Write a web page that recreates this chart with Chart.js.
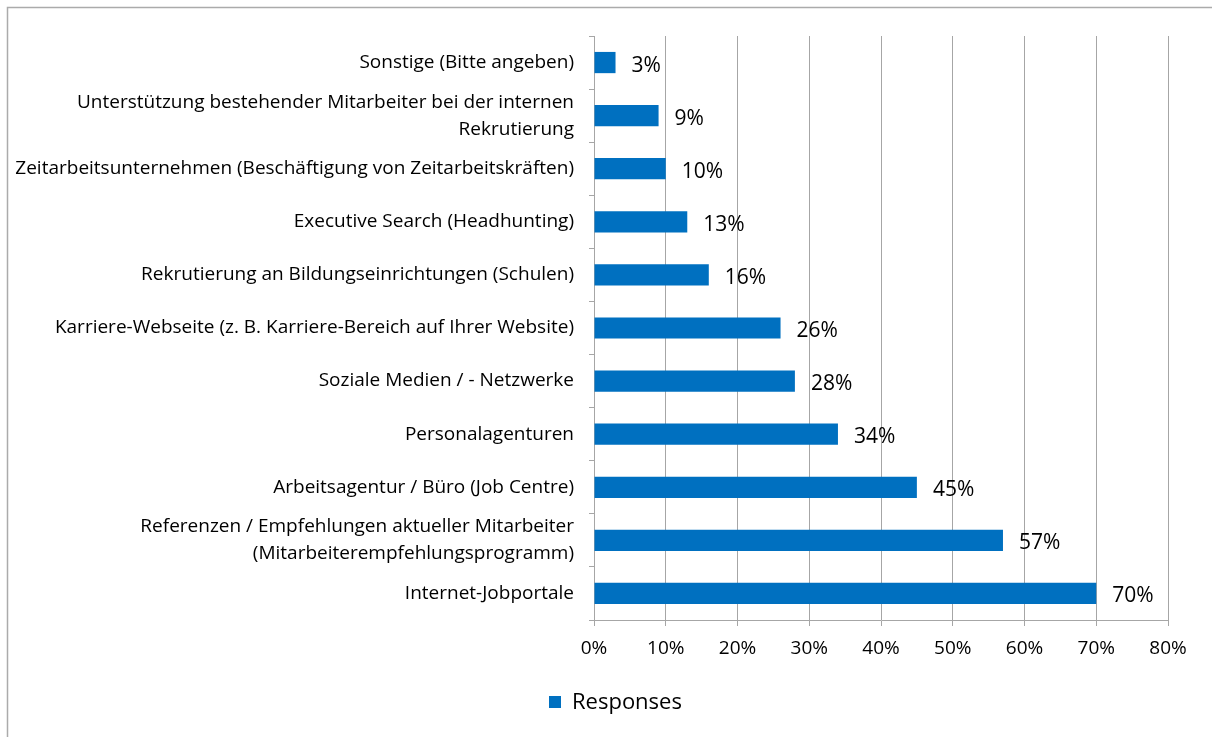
<!DOCTYPE html>
<html>
<head>
<meta charset="utf-8">
<script src="https://cdn.jsdelivr.net/npm/chart.js@4.4.1/dist/chart.umd.min.js"></script>
<style>
    html, body { margin: 0; padding: 0; background: #ffffff; }
    #wrap { width: 1212px; height: 737px; position: relative; }
</style>
</head>
<body>
<div id="wrap"><canvas id="chart" width="1212" height="737"></canvas></div>
<script>
const categories = [
    'Sonstige (Bitte angeben)',
    ['Unterstützung bestehender Mitarbeiter bei der internen', 'Rekrutierung'],
    'Zeitarbeitsunternehmen (Beschäftigung von Zeitarbeitskräften)',
    'Executive Search (Headhunting)',
    'Rekrutierung an Bildungseinrichtungen (Schulen)',
    'Karriere-Webseite (z. B. Karriere-Bereich auf Ihrer Website)',
    'Soziale Medien / - Netzwerke',
    'Personalagenturen',
    'Arbeitsagentur / Büro (Job Centre)',
    ['Referenzen / Empfehlungen aktueller Mitarbeiter', '(Mitarbeiterempfehlungsprogramm)'],
    'Internet-Jobportale'
];
const responses = [3, 9, 10, 13, 16, 26, 28, 34, 45, 57, 70];
const seriesName = 'Responses';
const tickMax = 80;
const tickStep = 10;

const FONT = '"Open Sans", "Noto Sans", sans-serif';
const barColor = '#0070C0';
const gridColor = '#a6a6a6';

// background + outer frame like the exported image
const framePlugin = {
    id: 'framePlugin',
    beforeDraw(chart) {
        const ctx = chart.ctx;
        ctx.save();
        ctx.fillStyle = '#ffffff';
        ctx.fillRect(0, 0, chart.width, chart.height);
        ctx.strokeStyle = '#ababab';
        ctx.lineWidth = 1.5;
        ctx.strokeRect(7.5, 7.5, chart.width + 20, chart.height + 20);
        ctx.restore();
    }
};

// value labels right of each bar
const valueLabelPlugin = {
    id: 'valueLabelPlugin',
    afterDatasetsDraw(chart) {
        const ctx = chart.ctx;
        const meta = chart.getDatasetMeta(0);
        ctx.save();
        ctx.font = '21px ' + FONT;
        ctx.fillStyle = '#000000';
        ctx.textAlign = 'left';
        ctx.textBaseline = 'middle';
        meta.data.forEach((bar, i) => {
            ctx.fillText(responses[i] + '%', bar.x + 16, bar.y + 3);
        });
        ctx.restore();
    }
};

// legend drawn by hand under the axis
const legendPlugin = {
    id: 'legendPlugin',
    afterDraw(chart) {
        const ctx = chart.ctx;
        ctx.save();
        ctx.fillStyle = barColor;
        ctx.fillRect(549, 696, 12, 12);
        ctx.font = '22px ' + FONT;
        ctx.fillStyle = '#000000';
        ctx.textAlign = 'left';
        ctx.textBaseline = 'middle';
        ctx.fillText(seriesName, 572, 703);
        ctx.restore();
    }
};

new Chart(document.getElementById('chart').getContext('2d'), {
    type: 'bar',
    data: {
        labels: categories,
        datasets: [{
            label: seriesName,
            data: responses,
            backgroundColor: barColor,
            barPercentage: 0.4,
            categoryPercentage: 1.0
        }]
    },
    options: {
        indexAxis: 'y',
        responsive: false,
        animation: false,
        events: [],
        layout: {
            padding: { left: 8, right: 44, top: 36, bottom: 77 }
        },
        plugins: {
            legend: { display: false },
            tooltip: { enabled: false }
        },
        scales: {
            x: {
                min: 0,
                max: tickMax,
                afterFit(scale) { scale.height = 40; },
                ticks: {
                    stepSize: tickStep,
                    padding: 11,
                    color: '#000000',
                    font: { family: FONT, size: 19 },
                    callback: (v) => v + '%'
                },
                grid: {
                    color: gridColor,
                    lineWidth: 1,
                    tickLength: 6,
                    drawOnChartArea: true
                },
                border: { color: gridColor, width: 1 }
            },
            y: {
                afterFit(scale) { scale.width = 586; },
                ticks: {
                    padding: 15,
                    color: '#000000',
                    font: { family: FONT, size: 19, lineHeight: 1.42 },
                    autoSkip: false
                },
                grid: {
                    color: gridColor,
                    drawOnChartArea: false,
                    tickLength: 5
                },
                border: { color: gridColor, width: 1 }
            }
        }
    },
    plugins: [framePlugin, valueLabelPlugin, legendPlugin]
});
</script>
</body>
</html>
